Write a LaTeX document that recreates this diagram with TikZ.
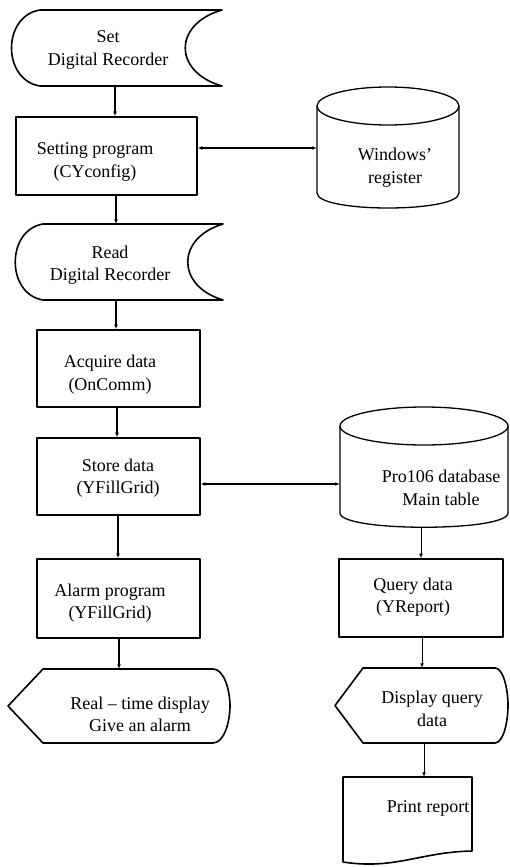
\documentclass[tikz,border=0pt]{standalone}
\usepackage{fontspec}
\setmainfont{Liberation Serif}
\usetikzlibrary{arrows.meta}
\tikzset{
  x=1pt, y=-1pt,
  outline/.style={line width=1.6pt, line join=round},
  drum/.style={line width=1.3pt},
  box/.style={draw, outline, rectangle, inner sep=0pt},
  anchorbox/.style={draw=none, rectangle, inner sep=0pt},
  label text/.style={align=center, inner sep=0pt, font=\fontsize{18}{22.5}\selectfont},
  flow/.style={line width=1.2pt, -{Latex[length=4.5pt,width=3.8pt]}},
  flowthin/.style={line width=0.9pt, -{Latex[length=4.5pt,width=3.8pt]}},
  both/.style={line width=1.3pt, {Latex[length=4.5pt,width=3.8pt]}-{Latex[length=4.5pt,width=3.8pt]}},
}
\begin{document}
\begin{tikzpicture}
\useasboundingbox (0,0) rectangle (510,867);

% ---- left column ----
% stored-data shape: Set Digital Recorder
\node[anchorbox, minimum width=212pt, minimum height=76pt] (set) at (116,48) {};
\draw[outline] (40,10) -- (222,10) .. controls (173,24) and (173,72) .. (222,86)
  -- (40,86) .. controls (2,80) and (2,16) .. (40,10) -- cycle;
\node[label text] (set-t) at (108,50) {Set\\Digital Recorder};

% process: Setting program
\node[box, minimum width=181pt, minimum height=78pt] (cfg) at (106.5,156) {};
\node[label text] (cfg-t) at (95,162) {Setting program\\(CYconfig)};

% drum: Windows' register
\node[anchorbox, minimum width=142pt, minimum height=122pt] (win) at (388,148) {};
\draw[drum] (388,106) ellipse [x radius=71, y radius=19];
\draw[drum] (317,106) -- (317,193) .. controls (317,213) and (459,213) .. (459,193) -- (459,106);
\node[label text] (win-t) at (395,167.5) {Windows'\\register};

% stored-data shape: Read Digital Recorder
\node[anchorbox, minimum width=209pt, minimum height=76pt] (read) at (118.5,262) {};
\draw[outline] (43,224) -- (223,224) .. controls (176,238) and (176,286) .. (223,300)
  -- (43,300) .. controls (6,294) and (6,230) .. (43,224) -- cycle;
\node[label text] (read-t) at (110,265) {Read\\Digital Recorder};

% process: Acquire data
\node[box, minimum width=163pt, minimum height=77pt] (acq) at (118.5,368.5) {};
\node[label text] (acq-t) at (110,374.5) {Acquire data\\(OnComm)};

% process: Store data
\node[box, minimum width=163pt, minimum height=77pt] (store) at (118.5,476.5) {};
\node[label text] (store-t) at (118,478) {Store data\\(YFillGrid)};

% process: Alarm program
\node[box, minimum width=163pt, minimum height=79pt] (alarm) at (118.5,598.5) {};
\node[label text] (alarm-t) at (110,603) {Alarm program\\(YFillGrid)};

% display: Real-time display
\node[anchorbox, minimum width=222pt, minimum height=74pt] (rt) at (119,706) {};
\draw[outline] (8,706) -- (43,669) -- (213,669) .. controls (224,669) and (230,690) .. (230,706)
  .. controls (230,722) and (224,743) .. (213,743) -- (43,743) -- cycle;
\node[label text] (rt-t) at (140,714.5) {Real -- time display\\Give an alarm};

% ---- right column ----
% drum: Pro106 database
\node[anchorbox, minimum width=168pt, minimum height=120pt] (db) at (424,467) {};
\draw[drum] (424,426) ellipse [x radius=84, y radius=19];
\draw[drum] (340,426) -- (340,513) .. controls (340,532) and (508,532) .. (508,513) -- (508,426);
\node[label text] (db-t) at (441,488) {Pro106 database\\Main table};

% process: Query data
\node[box, minimum width=164pt, minimum height=78pt] (query) at (421,598) {};
\node[label text] (query-t) at (413,597) {Query data\\(YReport)};

% display: Display query data
\node[anchorbox, minimum width=173pt, minimum height=75pt] (disp) at (421.5,705.5) {};
\draw[outline] (335,705.5) -- (363,668) -- (495,668) .. controls (503,668) and (508,688) .. (508,705.5)
  .. controls (508,723) and (503,743) .. (495,743) -- (363,743) -- cycle;
\node[label text] (disp-t) at (432,709) {Display query\\data};

% document: Print report
\node[anchorbox, minimum width=129pt, minimum height=88pt] (print) at (407.5,821) {};
\draw[outline] (343,777) -- (472,777) -- (472,851) .. controls (420,852) and (395,870) .. (343,862) -- cycle;
\node[label text] (print-t) at (428,808) {Print report};

% ---- connectors ----
\draw[flow] (set.south -| 115,0) -- (cfg.north -| 115,0);
\draw[both] (cfg.east |- win.west) -- (win.west);
\draw[flow] (cfg.south -| 116,0) -- (read.north -| 116,0);
\draw[flow] (read.south -| 116,0) -- (acq.north -| 116,0);
\draw[flow] (acq.south -| 117,0) -- (store.north -| 117,0);
\draw[both] (store.east |- 0,484) -- (db.west |- 0,484);
\draw[flow] (store.south -| 118,0) -- (alarm.north -| 118,0);
\draw[flow] (alarm.south -| 119,0) -- (rt.north -| 119,0);
\draw[flowthin] (db.south -| 421,0) -- (query.north -| 421,0);
\draw[flowthin] (query.south -| 422,0) -- (disp.north -| 422,0);
\draw[flowthin] (disp.south -| 424,0) -- (print.north -| 424,0);
\end{tikzpicture}
\end{document}
